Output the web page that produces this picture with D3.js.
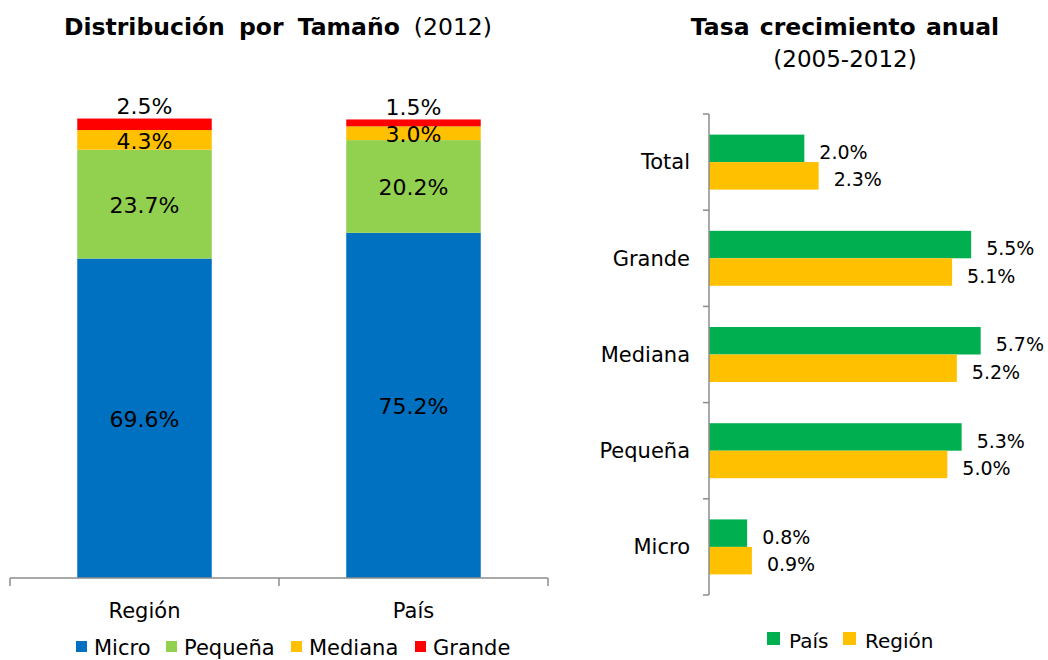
<!DOCTYPE html>
<html>
<head>
<meta charset="utf-8">
<script src="https://cdn.jsdelivr.net/npm/d3@7"></script>
<style>
  body { margin: 0; background: #fff; }
  svg text { font-family: "DejaVu Sans", Verdana, sans-serif; fill: #000; }
</style>
</head>
<body>
<div id="chart"></div>
<script>
// Left chart: distribution by size (2012)
const groups = ["Región", "País"];
const sizes = ["Micro", "Pequeña", "Mediana", "Grande"];
const microShare = [69.6, 75.2];
const pequenaShare = [23.7, 20.2];
const medianaShare = [4.3, 3.0];
const grandeShare = [2.5, 1.5];
const sizeColors = ["#0070C0", "#92D050", "#FFC000", "#FF0000"];

// Right chart: annual growth rate (2005-2012)
const growthCats = ["Total", "Grande", "Mediana", "Pequeña", "Micro"];
const growthSeries = ["País", "Región"];
const paisGrowth = [2.0, 5.5, 5.7, 5.3, 0.8];
const regionGrowth = [2.3, 5.1, 5.2, 5.0, 0.9];
const growthColors = ["#00B050", "#FFC000"];

const axisColor = "#8c8c8c";

const svg = d3.select("#chart").append("svg")
    .attr("width", 1048)
    .attr("height", 660);

// ---------- left stacked bars ----------
const shares = [microShare, pequenaShare, medianaShare, grandeShare];
const rows = groups.map((g, i) => {
    const r = { group: g };
    sizes.forEach((s, j) => r[s] = shares[j][i]);
    return r;
});
const stacked = d3.stack().keys(sizes)(rows);

const x1 = d3.scaleBand().domain(groups).range([10, 548])
    .paddingInner(0.5).paddingOuter(0.25);
const y1 = d3.scaleLinear().domain([0, 100]).range([578, 119]);

const left = svg.append("g");

left.selectAll(".layer")
    .data(stacked)
    .enter().append("g")
    .attr("fill", (d, i) => sizeColors[i])
    .selectAll("rect")
    .data(d => d)
    .enter().append("rect")
    .attr("x", d => x1(d.data.group))
    .attr("width", x1.bandwidth())
    .attr("y", d => y1(d[1]))
    .attr("height", d => y1(d[0]) - y1(d[1]));

// segment labels (top segment sits above the bar)
stacked.forEach((layer, li) => {
    left.selectAll(".lbl" + li)
        .data(layer)
        .enter().append("text")
        .attr("x", d => x1(d.data.group) + x1.bandwidth() / 2)
        .attr("y", d => li === sizes.length - 1 ? y1(d[1]) - 12 : (y1(d[0]) + y1(d[1])) / 2 + 1)
        .attr("dy", "0.35em")
        .attr("text-anchor", "middle")
        .attr("font-size", 22)
        .text(d => (d[1] - d[0]).toFixed(1) + "%");
});

// x axis with ticks at category boundaries
const step = x1.step();
const gap = (step - x1.bandwidth()) / 2;
const bounds = groups.map(g => x1(g) - gap).concat([x1(groups[groups.length - 1]) + x1.bandwidth() + gap]);
left.append("line")
    .attr("x1", bounds[0]).attr("x2", bounds[bounds.length - 1])
    .attr("y1", y1(0)).attr("y2", y1(0))
    .attr("stroke", axisColor).attr("stroke-width", 1.5);
left.selectAll(".xtick")
    .data(bounds)
    .enter().append("line")
    .attr("x1", d => d).attr("x2", d => d)
    .attr("y1", y1(0)).attr("y2", y1(0) + 8)
    .attr("stroke", axisColor).attr("stroke-width", 1.5);
left.selectAll(".xlab")
    .data(groups)
    .enter().append("text")
    .attr("x", d => x1(d) + x1.bandwidth() / 2)
    .attr("y", 618)
    .attr("text-anchor", "middle")
    .attr("font-size", 21)
    .text(d => d);

// title
const t1 = left.append("text")
    .attr("x", 278).attr("y", 35)
    .attr("text-anchor", "middle")
    .attr("font-size", 23.5);
t1.append("tspan").attr("font-weight", "bold").attr("word-spacing", 6).text("Distribución por Tamaño");
t1.append("tspan").attr("dx", 14).text("(2012)");

// legend
const legLeft = [76, 166, 291, 415];
const lg1 = left.selectAll(".leg")
    .data(sizes)
    .enter().append("g")
    .attr("transform", (d, i) => `translate(${legLeft[i]},641)`);
lg1.append("rect").attr("width", 11).attr("height", 11).attr("fill", (d, i) => sizeColors[i]);
lg1.append("text").attr("x", 18).attr("y", 14).attr("font-size", 21).text(d => d);

// ---------- right grouped horizontal bars ----------
const right = svg.append("g");
const y2 = d3.scaleBand().domain(growthCats).range([114, 595]);
const y2s = d3.scaleBand().domain(growthSeries).range([0, y2.bandwidth()])
    .paddingInner(0).paddingOuter(0.75);
const x2 = d3.scaleLinear().domain([0, 6]).range([709, 995]);

const growthRows = growthCats.map((c, i) => ({ cat: c, values: [paisGrowth[i], regionGrowth[i]] }));

const cg = right.selectAll(".cat")
    .data(growthRows)
    .enter().append("g")
    .attr("transform", d => `translate(0,${y2(d.cat)})`);

cg.selectAll("rect")
    .data(d => d.values.map((v, i) => ({ s: growthSeries[i], v: v, i: i })))
    .enter().append("rect")
    .attr("x", x2(0))
    .attr("y", d => y2s(d.s))
    .attr("width", d => x2(d.v) - x2(0))
    .attr("height", y2s.bandwidth())
    .attr("fill", d => growthColors[d.i]);

cg.selectAll("text.val")
    .data(d => d.values.map((v, i) => ({ s: growthSeries[i], v: v })))
    .enter().append("text")
    .attr("class", "val")
    .attr("x", d => x2(d.v) + 15)
    .attr("y", d => y2s(d.s) + y2s.bandwidth() / 2 + 4)
    .attr("dy", "0.35em")
    .attr("font-size", 19)
    .text(d => d.v.toFixed(1) + "%");

// y axis
right.append("line")
    .attr("x1", x2(0)).attr("x2", x2(0))
    .attr("y1", 114).attr("y2", 595)
    .attr("stroke", axisColor).attr("stroke-width", 1.5);
const yb = growthCats.map(c => y2(c)).concat([y2(growthCats[growthCats.length - 1]) + y2.bandwidth()]);
right.selectAll(".ytick")
    .data(yb)
    .enter().append("line")
    .attr("x1", x2(0) - 6).attr("x2", x2(0))
    .attr("y1", d => d).attr("y2", d => d)
    .attr("stroke", axisColor).attr("stroke-width", 1.5);
right.selectAll(".ylab")
    .data(growthCats)
    .enter().append("text")
    .attr("x", 690)
    .attr("y", d => y2(d) + y2.bandwidth() / 2)
    .attr("dy", "0.35em")
    .attr("text-anchor", "end")
    .attr("font-size", 21)
    .text(d => d);

// title
right.append("text")
    .attr("x", 845).attr("y", 35)
    .attr("text-anchor", "middle")
    .attr("font-size", 23.5)
    .attr("font-weight", "bold")
    .attr("word-spacing", 2)
    .text("Tasa crecimiento anual");
right.append("text")
    .attr("x", 845).attr("y", 67)
    .attr("text-anchor", "middle")
    .attr("font-size", 23)
    .text("(2005-2012)");

// legend
const legRight = [767, 843];
const lg2 = right.selectAll(".leg2")
    .data(growthSeries)
    .enter().append("g")
    .attr("transform", (d, i) => `translate(${legRight[i]},632)`);
lg2.append("rect").attr("width", 13).attr("height", 13).attr("fill", (d, i) => growthColors[i]);
lg2.append("text").attr("x", 22).attr("y", 16).attr("font-size", 20).text(d => d);
</script>
</body>
</html>
